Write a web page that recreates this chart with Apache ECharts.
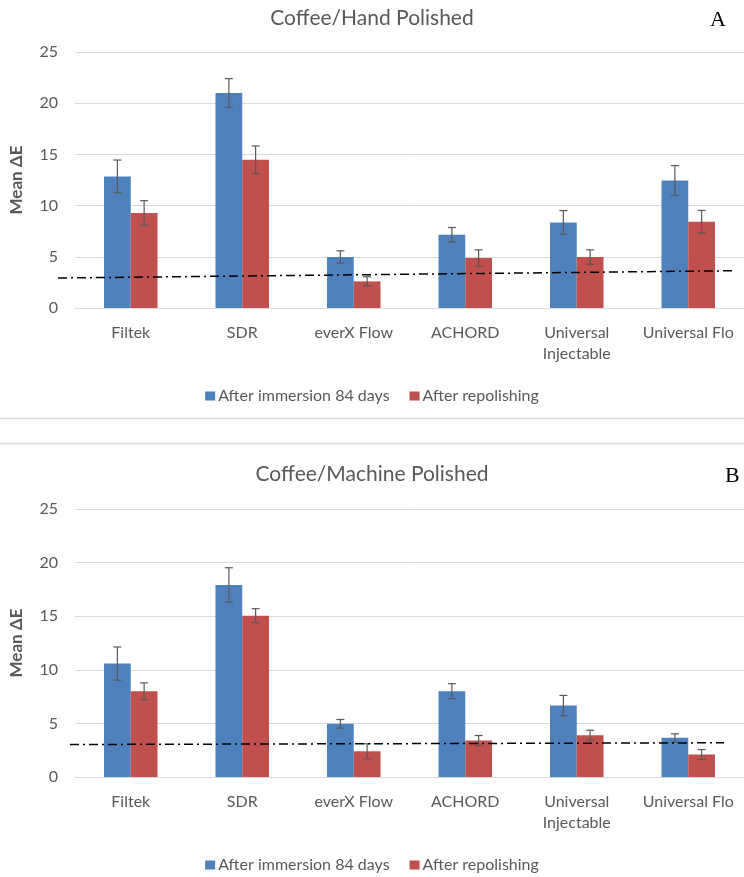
<!DOCTYPE html>
<html>
<head>
<meta charset="utf-8">
<script src="https://cdn.jsdelivr.net/npm/echarts@6/dist/echarts.min.js"></script>
<style>
html,body{margin:0;padding:0;background:#fff;}
#c{width:744px;height:877px;}
</style>
</head>
<body>
<div id="c"></div>
<script>
const categories = ['Filtek', 'SDR', 'everX Flow', 'ACHORD', 'Universal\nInjectable', 'Universal Flo'];
const seriesNames = ['After immersion 84 days', 'After repolishing'];
const yTicks = [0, 5, 10, 15, 20, 25];

// Chart A: Coffee / Hand Polished
const handImmersion = [12.85, 21.0, 4.98, 7.16, 8.36, 12.46];
const handImmersionErr = [1.6, 1.4, 0.6, 0.7, 1.15, 1.45];
const handRepolish = [9.28, 14.48, 2.6, 4.88, 4.98, 8.43];
const handRepolishErr = [1.2, 1.35, 0.45, 0.8, 0.7, 1.1];
const handThreshold = [2.93, 3.64];

// Chart B: Coffee / Machine Polished
const machImmersion = [10.58, 17.92, 4.96, 8.0, 6.66, 3.65];
const machImmersionErr = [1.55, 1.6, 0.4, 0.7, 0.95, 0.38];
const machRepolish = [8.0, 15.05, 2.4, 3.4, 3.9, 2.1];
const machRepolishErr = [0.78, 0.65, 0.7, 0.47, 0.46, 0.46];
const machThreshold = [3.03, 3.19];

const BLUE = '#4F81BD', RED = '#C0504D', TXT = '#595959', GRID = '#D9D9D9';
const FONT = 'Lato, "Open Sans", sans-serif';
const BAR_FRAC = 0.24;

const chart = echarts.init(document.getElementById('c'), null, {renderer: 'canvas'});

function errData(vals, errs) {
  return vals.map((v, i) => [i, v, errs[i]]);
}
function errSeries(vals, errs, xi, yi, side) {
  return {
    type: 'custom', xAxisIndex: xi, yAxisIndex: yi, z: 5, silent: true,
    data: errData(vals, errs),
    renderItem: function (params, api) {
      const band = api.size([1, 0])[0];
      const off = side * band * BAR_FRAC / 2;
      const i = api.value(0), v = api.value(1), e = api.value(2);
      const top = api.coord([i, v + e]);
      const bot = api.coord([i, v - e]);
      const x = top[0] + off;
      const cap = 4;
      const st = {stroke: '#595959', lineWidth: 1.2};
      return {type: 'group', children: [
        {type: 'line', shape: {x1: x, y1: top[1], x2: x, y2: bot[1]}, style: st},
        {type: 'line', shape: {x1: x - cap, y1: top[1], x2: x + cap, y2: top[1]}, style: st},
        {type: 'line', shape: {x1: x - cap, y1: bot[1], x2: x + cap, y2: bot[1]}, style: st}
      ]};
    }
  };
}

const catAxis = (gi) => ({
  type: 'category', gridIndex: gi, data: categories,
  axisLine: {show: true, lineStyle: {color: GRID, width: 1}},
  axisTick: {show: false},
  axisLabel: {interval: 0, color: TXT, fontFamily: FONT, fontSize: 16, margin: 14, lineHeight: 21}
});
const valAxis = (gi) => ({
  type: 'value', gridIndex: gi, min: 0, max: 25, interval: 5,
  name: 'Mean ΔE', nameLocation: 'middle', nameRotate: 90, nameGap: 50,
  nameTextStyle: {color: TXT, fontFamily: FONT, fontSize: 17, fontWeight: 'bold'},
  axisLine: {show: false}, axisTick: {show: false},
  axisLabel: {color: TXT, fontFamily: FONT, fontSize: 16, margin: 17},
  splitLine: {lineStyle: {color: GRID, width: 1}}
});
const hiddenX = (gi) => ({type: 'value', gridIndex: gi, min: 0, max: 1, show: false});
const hiddenY = (gi) => ({type: 'value', gridIndex: gi, min: 0, max: 25, show: false});

const barS = (name, data, xi, yi, color) => ({
  name: name, type: 'bar', xAxisIndex: xi, yAxisIndex: yi, data: data,
  barWidth: (BAR_FRAC * 100) + '%', barGap: '0%',
  itemStyle: {color: color}
});
const dashS = (data, xi, yi) => ({
  type: 'line', xAxisIndex: xi, yAxisIndex: yi, silent: true, symbol: 'none', z: 6,
  data: data.map((v, i) => [i, v]),
  lineStyle: {color: '#000', width: 1.5, type: [9, 4, 2, 4]}
});

const legendCfg = (top) => ({
  data: seriesNames, top: top, left: 'center', itemWidth: 10, itemHeight: 9, itemGap: 20,
  icon: 'rect', textStyle: {color: TXT, fontFamily: FONT, fontSize: 16, padding: [0, 0, 0, -2]},
  selectedMode: false
});

const option = {
  animation: false,
  backgroundColor: '#fff',
  title: [
    {text: 'Coffee/Hand Polished', left: 'center', top: 3,
     textStyle: {color: TXT, fontFamily: FONT, fontSize: 21, fontWeight: 'normal'}},
    {text: 'A', left: 705, top: 4,
     textStyle: {color: '#000', fontFamily: '"Liberation Serif", serif', fontSize: 22, fontWeight: 'normal'}},
    {text: 'Coffee/Machine Polished', left: 'center', top: 459,
     textStyle: {color: TXT, fontFamily: FONT, fontSize: 21, fontWeight: 'normal'}},
    {text: 'B', left: 720, top: 460,
     textStyle: {color: '#000', fontFamily: '"Liberation Serif", serif', fontSize: 22, fontWeight: 'normal'}}
  ],
  legend: [legendCfg(383), legendCfg(852)],
  grid: [
    {left: 72, right: 0, top: 52, height: 256},
    {left: 72, right: 0, top: 509, height: 268},
    {left: 58, right: 10, top: 52, height: 256},
    {left: 70, right: 20, top: 509, height: 268}
  ],
  xAxis: [catAxis(0), catAxis(1), hiddenX(2), hiddenX(3)],
  yAxis: [valAxis(0), valAxis(1), hiddenY(2), hiddenY(3)],
  series: [
    barS(seriesNames[0], handImmersion, 0, 0, BLUE),
    barS(seriesNames[1], handRepolish, 0, 0, RED),
    errSeries(handImmersion, handImmersionErr, 0, 0, -1),
    errSeries(handRepolish, handRepolishErr, 0, 0, 1),
    barS(seriesNames[0], machImmersion, 1, 1, BLUE),
    barS(seriesNames[1], machRepolish, 1, 1, RED),
    errSeries(machImmersion, machImmersionErr, 1, 1, -1),
    errSeries(machRepolish, machRepolishErr, 1, 1, 1),
    dashS(handThreshold, 2, 2),
    dashS(machThreshold, 3, 3)
  ],
  graphic: [
    {type: 'line', shape: {x1: 0, y1: 418.5, x2: 744, y2: 418.5}, style: {stroke: GRID, lineWidth: 1.5}},
    {type: 'line', shape: {x1: 0, y1: 443.5, x2: 744, y2: 443.5}, style: {stroke: GRID, lineWidth: 1.5}}
  ]
};
chart.setOption(option);
</script>
</body>
</html>
